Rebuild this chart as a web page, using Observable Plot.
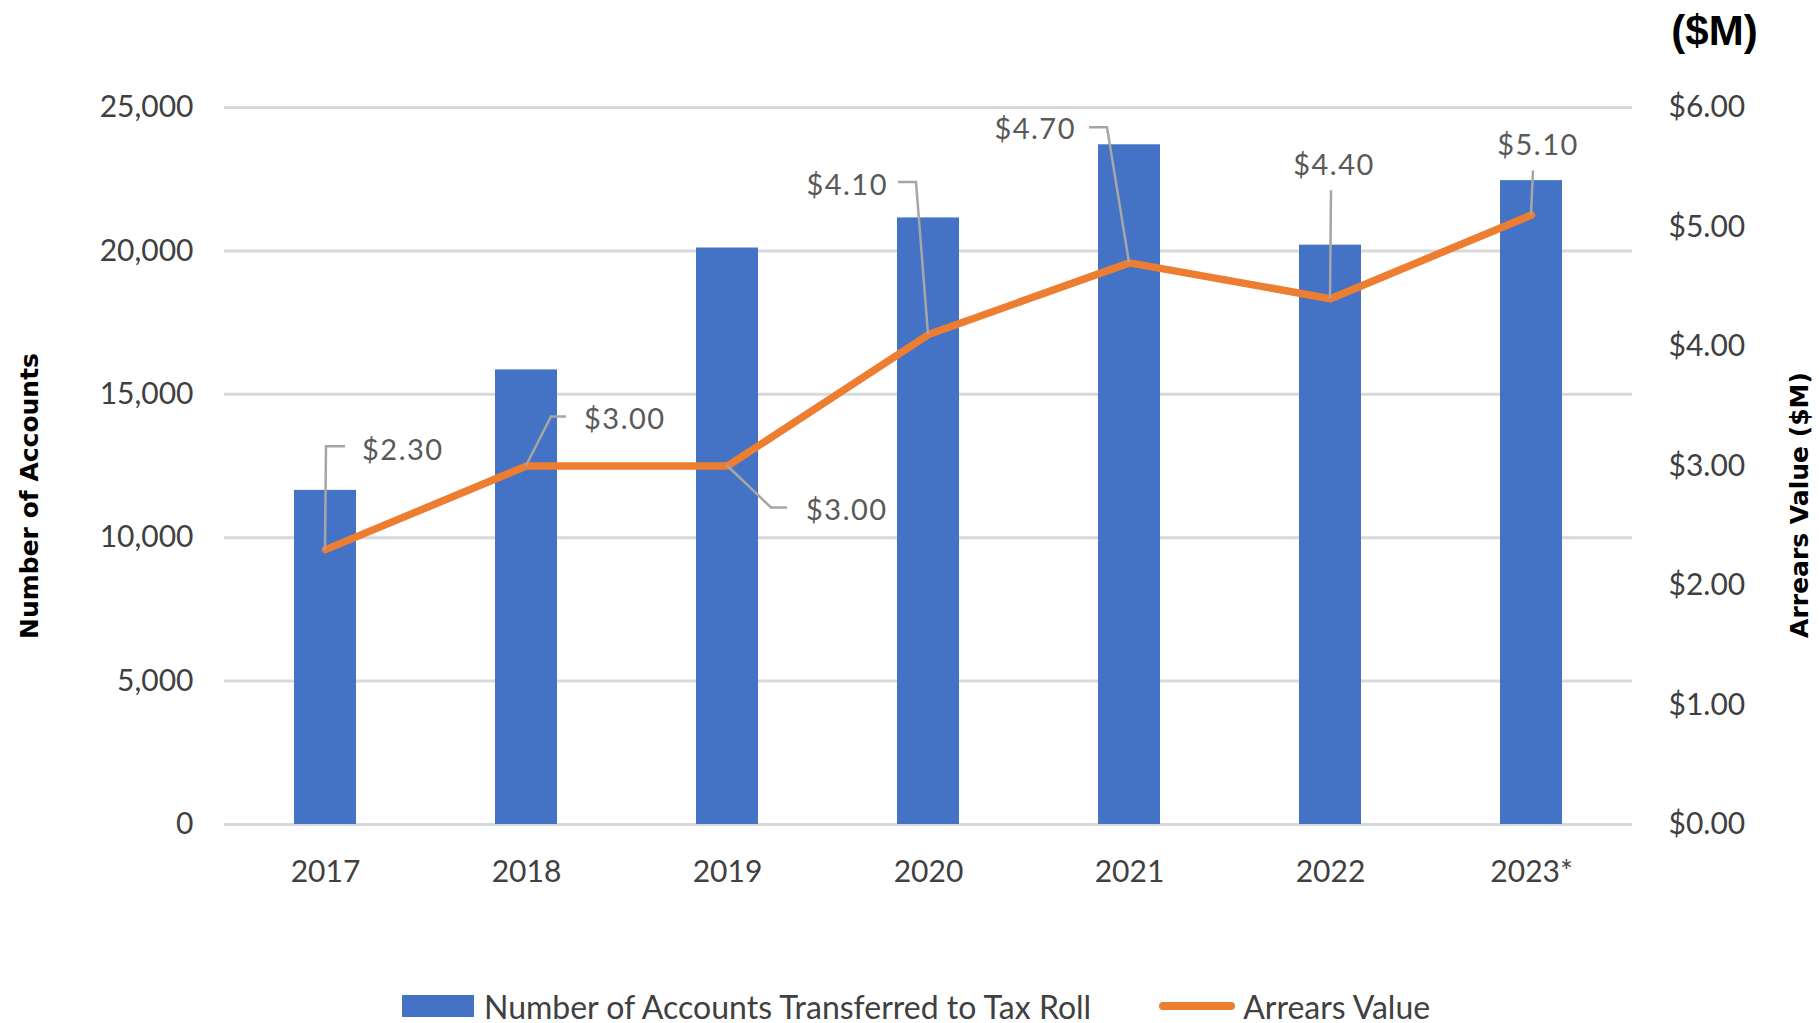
<!DOCTYPE html>
<html>
<head>
<meta charset="utf-8">
<script src="https://cdn.jsdelivr.net/npm/d3@7"></script>
<script src="https://cdn.jsdelivr.net/npm/@observablehq/plot@0.6"></script>
<style>
  html, body { margin: 0; padding: 0; background: #fff; width: 1819px; height: 1023px; overflow: hidden; }
  #chart { position: absolute; left: 0; top: 0; }
  #legend { position: absolute; left: 402px; top: 990px; height: 32px; display: flex; align-items: center;
            font-family: Lato, "Open Sans", sans-serif; font-size: 32px; color: #404040; white-space: nowrap; }
  .sw-bar { width: 72px; height: 22px; background: #4472C4; margin-right: 10px; }
  .sw-line { width: 76px; height: 8px; border-radius: 4px; background: #ED7D31; margin-left: 68px; margin-right: 8px; }
</style>
</head>
<body>
<div id="chart"></div>
<div id="legend">
  <div class="sw-bar"></div><span>Number of Accounts Transferred to Tax Roll</span>
  <div class="sw-line"></div><span>Arrears Value</span>
</div>
<script>
// ---- data ----
const years = ["2017", "2018", "2019", "2020", "2021", "2022", "2023*"];
const accounts = [11650, 15850, 20100, 21150, 23700, 20200, 22450];
const arrears = [2.30, 3.00, 3.00, 4.10, 4.70, 4.40, 5.10];
const accountTicks = [0, 5000, 10000, 15000, 20000, 25000];
const arrearsTicks = [0, 1, 2, 3, 4, 5, 6];

// ---- label placement (pixel offsets from each line vertex) ----
const labelAnchor = ["start", "start", "start", "end", "end", "middle", "middle"];
const labelOffset = [[37, -100], [58, -47], [79, 44], [-40, -149], [-53, -134], [4, -134], [7, -70]];
const leaderPath = [
  [[0, 0], [1, -103], [20, -103]],
  [[0, 0], [25, -49], [40, -49]],
  [[0, 0], [44, 42], [60, 42]],
  [[0, 0], [-12, -152], [-30, -152]],
  [[0, 0], [-22, -135], [-40, -135]],
  [[0, 0], [1, -108]],
  [[0, 0], [2, -44]]
];

const accMax = 25000, arrMax = 6;
const K = accMax / arrMax; // maps $M onto the accounts axis
const table = years.map((y, i) => ({year: y, accounts: accounts[i], arrears: arrears[i], scaled: arrears[i] * K}));

function annotations(index, scales) {
  const g = d3.create("svg:g");
  const off = scales.x.bandwidth ? scales.x.bandwidth() / 2 : 0;
  table.forEach((d, i) => {
    const px = scales.x(d.year) + off;
    const py = scales.y(d.scaled);
    g.append("path")
      .attr("d", d3.line()(leaderPath[i].map(([a, b]) => [px + a, py + b])))
      .attr("fill", "none").attr("stroke", "#a6a6a6").attr("stroke-width", 2.5);
    g.append("text")
      .attr("x", px + labelOffset[i][0]).attr("y", py + labelOffset[i][1])
      .attr("dy", "0.36em")
      .attr("text-anchor", labelAnchor[i])
      .attr("fill", "#595959")
      .attr("font-size", 29)
      .attr("letter-spacing", "1.5px")
      .text("$" + d.arrears.toFixed(2));
  });
  return g.node();
}

const chart = Plot.plot({
  width: 1819,
  height: 960,
  marginLeft: 224,
  marginRight: 187,
  marginTop: 107,
  marginBottom: 136,
  style: {fontFamily: "Lato, 'Open Sans', sans-serif", color: "#404040", background: "#fff"},
  x: {type: "band", domain: years, paddingInner: 0.69, paddingOuter: 0.345, label: null},
  y: {domain: [0, accMax], label: null},
  marks: [
    Plot.gridY(accountTicks, {stroke: "#d9d9d9", strokeOpacity: 1, strokeWidth: 3}),
    Plot.barY(table, {x: "year", y: "accounts", fill: "#4472C4"}),
    Plot.line(table, {x: "year", y: "scaled", stroke: "#ED7D31", strokeWidth: 7.5, strokeLinejoin: "round", strokeLinecap: "round"}),
    annotations,
    Plot.axisY(accountTicks, {anchor: "left", tickSize: 0, tickPadding: 31, fontSize: 30, tickFormat: d3.format(","), label: null}),
    Plot.axisY(arrearsTicks.map(v => v * K), {anchor: "right", tickSize: 0, tickPadding: 36, fontSize: 30, tickFormat: d => "$" + (d / K).toFixed(2), label: null}),
    Plot.axisX({tickSize: 0, tickPadding: 36, fontSize: 30, label: null}),
    Plot.text(["Number of Accounts"], {frameAnchor: "left", textAnchor: "middle", rotate: -90, dx: -195, dy: 30, fontSize: 25, fontWeight: "bold", fontFamily: "DejaVu Sans", fill: "#000"}),
    Plot.text(["Arrears Value ($M)"], {frameAnchor: "right", textAnchor: "middle", rotate: -90, dx: 167, dy: 39, fontSize: 25, fontWeight: "bold", fontFamily: "DejaVu Sans", fill: "#000"}),
    Plot.text(["($M)"], {frameAnchor: "top-right", textAnchor: "middle", dx: 82, dy: -92, fontSize: 42, fontWeight: "bold", fontFamily: "'Liberation Sans Narrow', 'Liberation Sans', sans-serif", fill: "#000"})
  ]
});
document.getElementById("chart").appendChild(chart);
</script>
</body>
</html>
